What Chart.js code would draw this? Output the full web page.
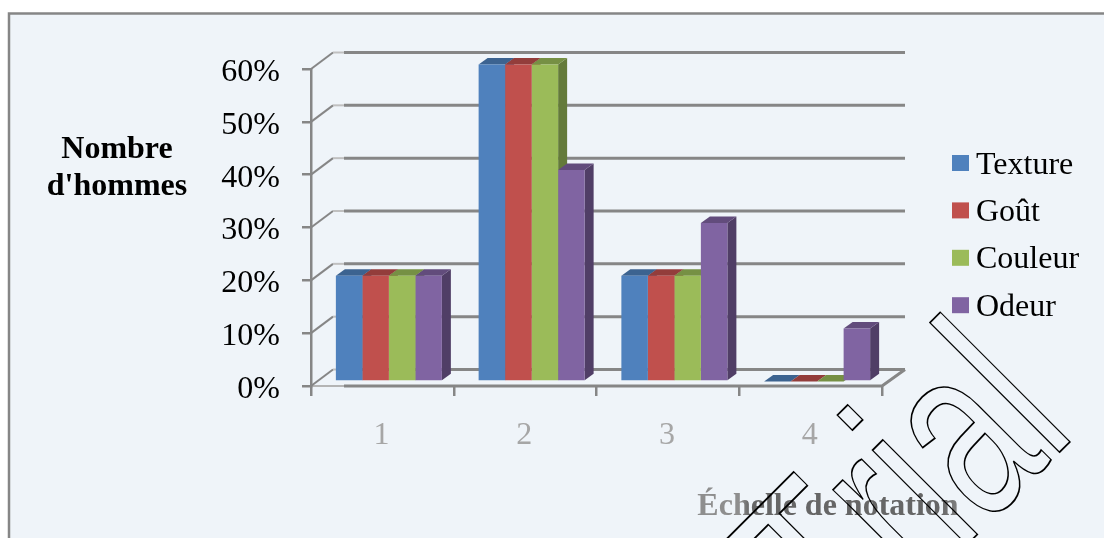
<!DOCTYPE html>
<html lang="fr">
<head>
<meta charset="utf-8">
<style>
  html, body { margin: 0; padding: 0; background: #ffffff; }
  #wrap { position: relative; width: 1104px; height: 538px; overflow: hidden; }
  canvas { display: block; }
</style>
<script src="https://cdn.jsdelivr.net/npm/chart.js@4/dist/chart.umd.js"></script>
</head>
<body>
<div id="wrap"><canvas id="chart" width="1104" height="538"></canvas></div>
<script>
const categories = ['1', '2', '3', '4'];
const texture = [20, 60, 20, 0];
const gout = [20, 60, 20, 0];
const couleur = [20, 60, 20, 0];
const odeur = [20, 40, 30, 10];
const yTickStep = 10;
const yMax = 60;

// Face colours: front, top, side of each 3D column.
const palette = {
  Texture: ['#4f81bd', '#3c6390', '#3c6390'],
  'Goût': ['#c0504d', '#933d3b', '#933d3b'],
  Couleur: ['#9bbb59', '#769044', '#647a3a'],
  Odeur: ['#8064a2', '#624c7c', '#503e66']
};

const SERIF = '"Liberation Serif", "Times New Roman", serif';
const AXIS = '#868686';
const DEPTH = { x: 22, y: -16.5 };      // offset of the back wall from the front plane
const BAR_SHIFT = { x: 6.5, y: -4.6 };  // columns stand slightly behind the front edge
const BAR_DEPTH = { x: 9, y: -6.5 };    // depth of each column

const panelPlugin = {
  id: 'panel',
  beforeDraw(chart) {
    const c = chart.ctx;
    c.save();
    c.fillStyle = '#eff4f9';
    c.fillRect(9, 14, 1104, 538);
    c.strokeStyle = AXIS;
    c.lineWidth = 2.5;
    c.beginPath();
    c.moveTo(9, 540);
    c.lineTo(9, 13.5);
    c.lineTo(1110, 13.5);
    c.stroke();
    c.restore();
  }
};

const wallsPlugin = {
  id: 'walls',
  beforeDatasetsDraw(chart) {
    const c = chart.ctx;
    const { x, y } = chart.scales;
    const left = x.left, right = x.right;
    const backRight = right + 23;
    c.save();
    y.ticks.forEach(t => {
      const py = y.getPixelForValue(t.value);
      const by = py + DEPTH.y;
      c.strokeStyle = AXIS;
      c.lineWidth = 2;
      c.beginPath();
      c.moveTo(left, py);
      c.lineTo(left + DEPTH.x, by);
      c.stroke();
      c.strokeStyle = '#c0c0c0';
      c.lineWidth = 2;
      c.beginPath();
      c.moveTo(left + DEPTH.x, by);
      c.lineTo(left + 33, by);
      c.stroke();
      c.strokeStyle = AXIS;
      c.lineWidth = 3;
      c.beginPath();
      c.moveTo(left + 33, by);
      c.lineTo(backRight, by);
      c.stroke();
    });
    // Floor edge along the front and up the right-hand side.
    const py = y.getPixelForValue(0);
    c.strokeStyle = AXIS;
    c.lineWidth = 3;
    c.beginPath();
    c.moveTo(left + 33, py);
    c.lineTo(right, py);
    c.lineTo(backRight, py + DEPTH.y);
    c.stroke();

    // Top and side faces of the columns, left to right, so that a shorter
    // column's top sits in front of its taller neighbour's side.
    c.translate(BAR_SHIFT.x, BAR_SHIFT.y);
    chart.data.datasets.forEach((ds, i) => {
      const faces = palette[ds.label];
      chart.getDatasetMeta(i).data.forEach(bar => {
        const p = bar.getProps(['x', 'y', 'base', 'width']);
        const l = p.x - p.width / 2, r = p.x + p.width / 2;
        c.fillStyle = faces[2];
        c.beginPath();
        c.moveTo(r, p.y);
        c.lineTo(r + BAR_DEPTH.x, p.y + BAR_DEPTH.y);
        c.lineTo(r + BAR_DEPTH.x, p.base + BAR_DEPTH.y);
        c.lineTo(r, p.base);
        c.closePath();
        c.fill();
        c.fillStyle = faces[1];
        c.beginPath();
        c.moveTo(l, p.y);
        c.lineTo(l + BAR_DEPTH.x, p.y + BAR_DEPTH.y);
        c.lineTo(r + BAR_DEPTH.x, p.y + BAR_DEPTH.y);
        c.lineTo(r, p.y);
        c.closePath();
        c.fill();
      });
    });
    c.restore();
  }
};

// Front faces are drawn by the library, shifted with the rest of the column.
const columnPlugin = {
  id: 'columns',
  beforeDatasetDraw(chart) {
    chart.ctx.save();
    chart.ctx.translate(BAR_SHIFT.x, BAR_SHIFT.y);
  },
  afterDatasetDraw(chart) {
    chart.ctx.restore();
  }
};

const notesPlugin = {
  id: 'notes',
  afterDraw(chart) {
    const c = chart.ctx;
    c.save();
    c.textBaseline = 'alphabetic';

    // Series key.
    c.textAlign = 'left';
    c.font = '32px ' + SERIF;
    chart.data.datasets.forEach((ds, i) => {
      const cy = 163 + i * 47.4;
      c.fillStyle = ds.backgroundColor;
      c.fillRect(952, cy - 8, 17, 16);
      c.fillStyle = '#000000';
      c.fillText(ds.label, 976, cy + 10.5);
    });

    // Axis captions.
    c.textAlign = 'center';
    c.fillStyle = '#000000';
    c.font = 'bold 32px ' + SERIF;
    c.fillText('Nombre', 117, 158);
    c.fillText("d'hommes", 117, 195);
    const ink = c.createLinearGradient(697, 0, 958, 0);
    ink.addColorStop(0, '#8e8e8e');
    ink.addColorStop(0.17, '#8e8e8e');
    ink.addColorStop(0.2, '#666666');
    ink.addColorStop(0.93, '#666666');
    ink.addColorStop(1, '#808080');
    c.fillStyle = ink;
    c.fillText('Échelle de notation', 828, 515);

    // Outlined, condensed overlay lettering across the lower right.
    c.translate(1064.7, 447);
    c.rotate(-Math.PI / 4);
    c.scale(0.664, 1);
    c.textAlign = 'right';
    c.fontKerning = 'none';
    c.font = '253px "Liberation Sans", Arial, sans-serif';
    c.strokeStyle = '#000000';
    c.lineWidth = 1.8;
    c.lineJoin = 'miter';
    c.strokeText('Trial', 28, 0);
    c.restore();
  }
};

new Chart(document.getElementById('chart'), {
  type: 'bar',
  data: {
    labels: categories,
    datasets: [
      { label: 'Texture', data: texture, backgroundColor: palette.Texture[0] },
      { label: 'Goût', data: gout, backgroundColor: palette['Goût'][0] },
      { label: 'Couleur', data: couleur, backgroundColor: palette.Couleur[0] },
      { label: 'Odeur', data: odeur, backgroundColor: palette.Odeur[0] }
    ]
  },
  options: {
    responsive: false,
    animation: false,
    layout: { padding: { left: 0, top: 69, right: 222, bottom: 0 } },
    datasets: { bar: { categoryPercentage: 0.7426, barPercentage: 1, clip: false } },
    scales: {
      x: {
        offset: true,
        border: { display: true, color: '#b4b4b4', width: 2 },
        grid: { offset: true, drawOnChartArea: false, color: AXIS, lineWidth: 2.5, tickLength: 10 },
        ticks: { color: '#a6a6a6', font: { family: SERIF, size: 32 }, padding: 20, labelOffset: -1, maxRotation: 0 },
        afterFit(s) { s.height = 538 - 386; }
      },
      y: {
        min: 0,
        max: yMax,
        border: { display: true, color: AXIS, width: 2.5 },
        grid: { drawOnChartArea: false, color: AXIS, lineWidth: 2.5, tickLength: 9 },
        ticks: {
          stepSize: yTickStep,
          color: '#000000',
          font: { family: SERIF, size: 32 },
          padding: 22,
          labelOffset: 3.5,
          callback: v => v + '%'
        },
        afterFit(s) { s.width = 311; }
      }
    },
    plugins: {
      legend: { display: false },
      tooltip: { enabled: false }
    }
  },
  plugins: [panelPlugin, wallsPlugin, columnPlugin, notesPlugin]
});
</script>
</body>
</html>
